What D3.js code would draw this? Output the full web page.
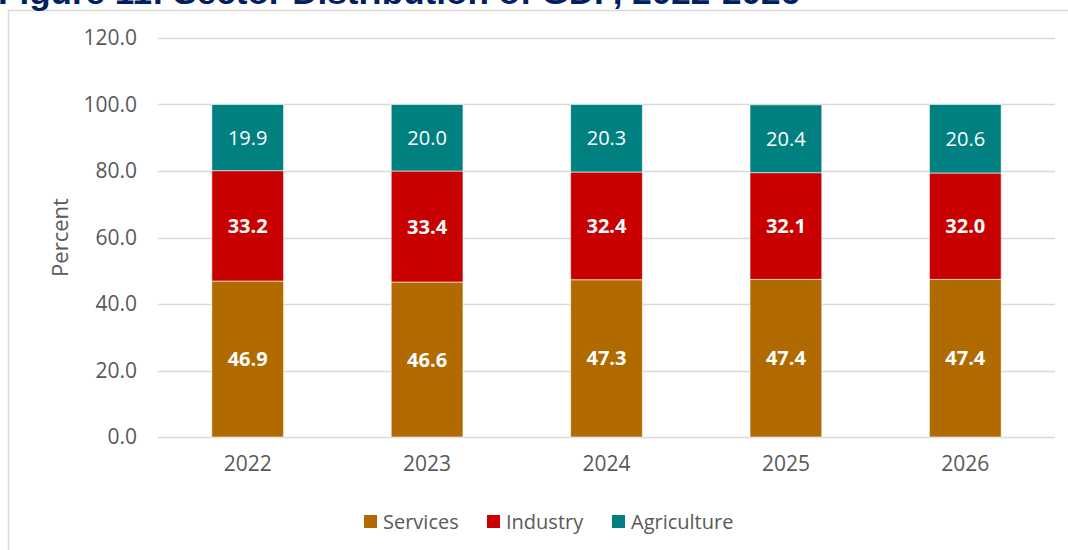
<!DOCTYPE html>
<html>
<head>
<meta charset="utf-8">
<script src="https://cdn.jsdelivr.net/npm/d3@7"></script>
<style>
  body { margin: 0; background: #fff; }
  svg { display: block; font-family: "Open Sans", "Noto Sans", sans-serif; }
</style>
</head>
<body>
<div id="chart"></div>
<script>
const WIDTH = 1068;
const HEIGHT = 550;
const MARGINS = { TOP: 38, LEFT: 158, BOTTOM: 113, RIGHT: 13 };

const years = ['2022', '2023', '2024', '2025', '2026'];
const services = [46.9, 46.6, 47.3, 47.4, 47.4];
const industry = [33.2, 33.4, 32.4, 32.1, 32.0];
const agriculture = [19.9, 20.0, 20.3, 20.4, 20.6];
const yTicks = [0, 20, 40, 60, 80, 100, 120];
const seriesNames = ['Services', 'Industry', 'Agriculture'];
const COLORS = { Services: '#B06A00', Industry: '#C80000', Agriculture: '#008080' };

let rows = years.map((y, i) => ({
    year: y, Services: services[i], Industry: industry[i], Agriculture: agriculture[i]
}));
let stacked = d3.stack().keys(seriesNames)(rows);

let svg = d3.select('#chart')
    .append('svg')
    .attr('width', WIDTH)
    .attr('height', HEIGHT);

// chart frame
svg.append('path')
    .attr('d', `M8.5,${HEIGHT} V10.5 H${WIDTH}`)
    .attr('fill', 'none')
    .attr('stroke', '#d9d9d9')
    .attr('stroke-width', 1.5);

// title, clipped by the top of the picture as in the source
svg.append('text')
    .attr('x', -2)
    .attr('y', 4)
    .attr('textLength', 802)
    .attr('lengthAdjust', 'spacingAndGlyphs')
    .style('font-family', '"Liberation Sans", Arial, sans-serif')
    .style('font-weight', 'bold')
    .style('font-size', '33px')
    .style('fill', '#002060')
    .text('Figure 11: Sector Distribution of GDP, 2022-2026');

let g = svg.append('g')
    .attr('transform', `translate(${MARGINS.LEFT},${MARGINS.TOP})`);

let innerW = WIDTH - MARGINS.LEFT - MARGINS.RIGHT;
let innerH = HEIGHT - MARGINS.TOP - MARGINS.BOTTOM;

let x = d3.scaleBand().domain(years).range([0, innerW]).paddingInner(0.6).paddingOuter(0.3);
let y = d3.scaleLinear().domain([0, 120]).range([innerH, 0]);

// gridlines
g.append('g')
    .selectAll('line')
    .data(yTicks)
    .enter()
    .append('line')
    .attr('x1', 0)
    .attr('x2', innerW)
    .attr('y1', d => Math.round(y(d)) + 0.5)
    .attr('y2', d => Math.round(y(d)) + 0.5)
    .attr('stroke', '#d9d9d9')
    .attr('stroke-width', 1.5);

// y axis labels
let yAxis = g.append('g')
    .call(d3.axisLeft(y).tickValues(yTicks).tickFormat(d3.format('.1f')).tickSize(0).tickPadding(21));
yAxis.select('.domain').remove();
yAxis.selectAll('text')
    .style('font-size', '21px')
    .style('fill', '#595959')
    .style('font-family', '"Open Sans", sans-serif');

// x axis labels
let xAxis = g.append('g')
    .attr('transform', `translate(0,${innerH})`)
    .call(d3.axisBottom(x).tickSize(0).tickPadding(19));
xAxis.select('.domain').remove();
xAxis.selectAll('text')
    .style('font-size', '21px')
    .style('fill', '#595959')
    .style('font-family', '"Open Sans", sans-serif');

// axis title
svg.append('text')
    .attr('transform', `translate(68,${MARGINS.TOP + y(60)}) rotate(-90)`)
    .style('text-anchor', 'middle')
    .style('font-size', '22px')
    .style('fill', '#595959')
    .text('Percent');

// bars
let layers = g.append('g')
    .selectAll('g')
    .data(stacked)
    .enter()
    .append('g')
    .attr('fill', d => COLORS[d.key]);

layers.selectAll('rect')
    .data(d => d)
    .enter()
    .append('rect')
    .attr('x', d => x(d.data.year))
    .attr('y', d => y(d[1]))
    .attr('width', x.bandwidth())
    .attr('height', d => y(d[0]) - y(d[1]))
    .attr('stroke', '#ffffff')
    .attr('stroke-opacity', 0.6)
    .attr('stroke-width', 1);

// value labels
layers.each(function (s) {
    d3.select(this).selectAll('text')
        .data(s)
        .enter()
        .append('text')
        .attr('x', d => x(d.data.year) + x.bandwidth() / 2)
        .attr('y', d => y((d[0] + d[1]) / 2))
        .attr('dy', '0.35em')
        .style('text-anchor', 'middle')
        .style('font-size', '20px')
        .style('font-weight', s.key === 'Agriculture' ? 'normal' : 'bold')
        .style('fill', '#ffffff')
        .text(d => d3.format('.1f')(d.data[s.key]));
});

// legend
let legendItems = [
    { name: 'Services', x: 364 },
    { name: 'Industry', x: 487 },
    { name: 'Agriculture', x: 612 }
];
let legend = svg.append('g').attr('id', 'legend');
legendItems.forEach(item => {
    legend.append('rect')
        .attr('x', item.x)
        .attr('y', 515)
        .attr('width', 13)
        .attr('height', 13)
        .attr('fill', COLORS[item.name]);
    legend.append('text')
        .attr('x', item.x + 19)
        .attr('y', 529)
        .style('font-size', '20px')
        .style('fill', '#595959')
        .text(item.name);
});
</script>
</body>
</html>
